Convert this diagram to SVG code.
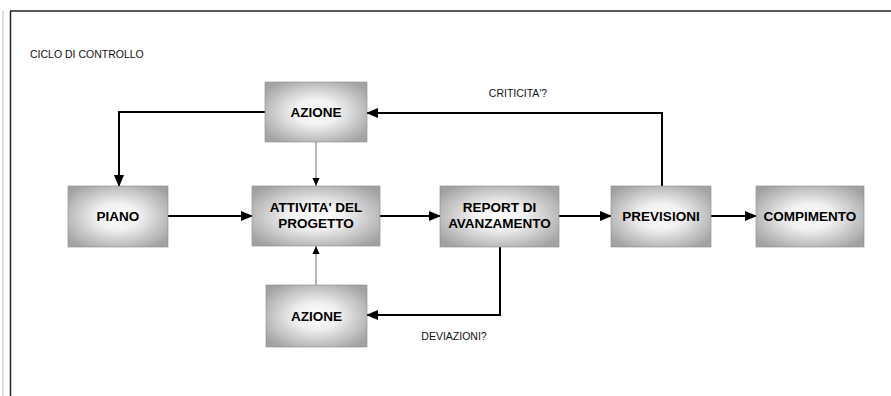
<svg xmlns="http://www.w3.org/2000/svg" width="891" height="396" viewBox="0 0 891 396">
<defs>
<radialGradient id="boxgrad" cx="50%" cy="50%" r="62%">
<stop offset="0" stop-color="#ffffff"/>
<stop offset="0.35" stop-color="#f0f0f0"/>
<stop offset="1" stop-color="#a2a2a2"/>
</radialGradient>
<marker id="arr" markerUnits="userSpaceOnUse" markerWidth="12" markerHeight="10" refX="11" refY="5" orient="auto">
<path d="M0,0 L12,5 L0,10 Z" fill="#000"/>
</marker>
<marker id="arrs" markerUnits="userSpaceOnUse" markerWidth="8" markerHeight="8" refX="8" refY="4" orient="auto">
<path d="M0,0.5 L8,4 L0,7.5 Z" fill="#000"/>
</marker>
</defs>
<style>
.box{fill:url(#boxgrad);stroke:#8a8a8a;stroke-width:0.6}
.lbl{font-family:"Liberation Sans",Arial,sans-serif;font-weight:bold;font-size:13.5px;fill:#000;text-anchor:middle}
.note{font-family:"Liberation Sans",Arial,sans-serif;font-size:10.5px;fill:#111}
.thick{fill:none;stroke:#000;stroke-width:2;marker-end:url(#arr)}
.thin{fill:none;stroke:#444;stroke-width:0.8;marker-end:url(#arrs)}
.frame{fill:none;stroke:#222;stroke-width:1.5}
</style>
<g id="frame">
<line class="frame" x1="10" y1="11" x2="891" y2="11"/>
<line class="frame" x1="10.5" y1="11" x2="10.5" y2="396"/>
<line x1="3" y1="11" x2="3" y2="396" stroke="#bbb" stroke-width="1"/>
</g>
<text id="title" class="note" x="30" y="58">CICLO DI CONTROLLO</text>
<g id="connectors">
<path class="thick" d="M265,112 H119 V186"/>
<path class="thick" d="M168,216 H252"/>
<path class="thick" d="M380,216 H440"/>
<path class="thick" d="M559,216 H611"/>
<path class="thick" d="M711,216 H756"/>
<path class="thick" d="M662,186 V113 H367"/>
<path class="thick" d="M500,247 V315 H367"/>
<path class="thin" d="M316,142 V186"/>
<path class="thin" d="M316,285 V246"/>
<text class="note" x="518" y="97" text-anchor="middle">CRITICITA'?</text>
<text class="note" x="454" y="340" text-anchor="middle">DEVIAZIONI?</text>
</g>
<g id="azione-top">
<rect class="box" x="265" y="82" width="102" height="60"/>
<text class="lbl" x="316" y="117">AZIONE</text>
</g>
<g id="piano">
<rect class="box" x="68" y="186" width="100" height="61"/>
<text class="lbl" x="118" y="221">PIANO</text>
</g>
<g id="attivita">
<rect class="box" x="252" y="186" width="128" height="60"/>
<text class="lbl" x="316" y="212">ATTIVITA' DEL</text>
<text class="lbl" x="316" y="228">PROGETTO</text>
</g>
<g id="report">
<rect class="box" x="440" y="186" width="119" height="61"/>
<text class="lbl" x="499.5" y="212">REPORT DI</text>
<text class="lbl" x="499.5" y="228">AVANZAMENTO</text>
</g>
<g id="previsioni">
<rect class="box" x="611" y="186" width="100" height="61"/>
<text class="lbl" x="661" y="221">PREVISIONI</text>
</g>
<g id="compimento">
<rect class="box" x="756" y="186" width="108" height="61"/>
<text class="lbl" x="810" y="221">COMPIMENTO</text>
</g>
<g id="azione-bottom">
<rect class="box" x="266" y="285" width="101" height="62"/>
<text class="lbl" x="316.5" y="321">AZIONE</text>
</g>
</svg>
